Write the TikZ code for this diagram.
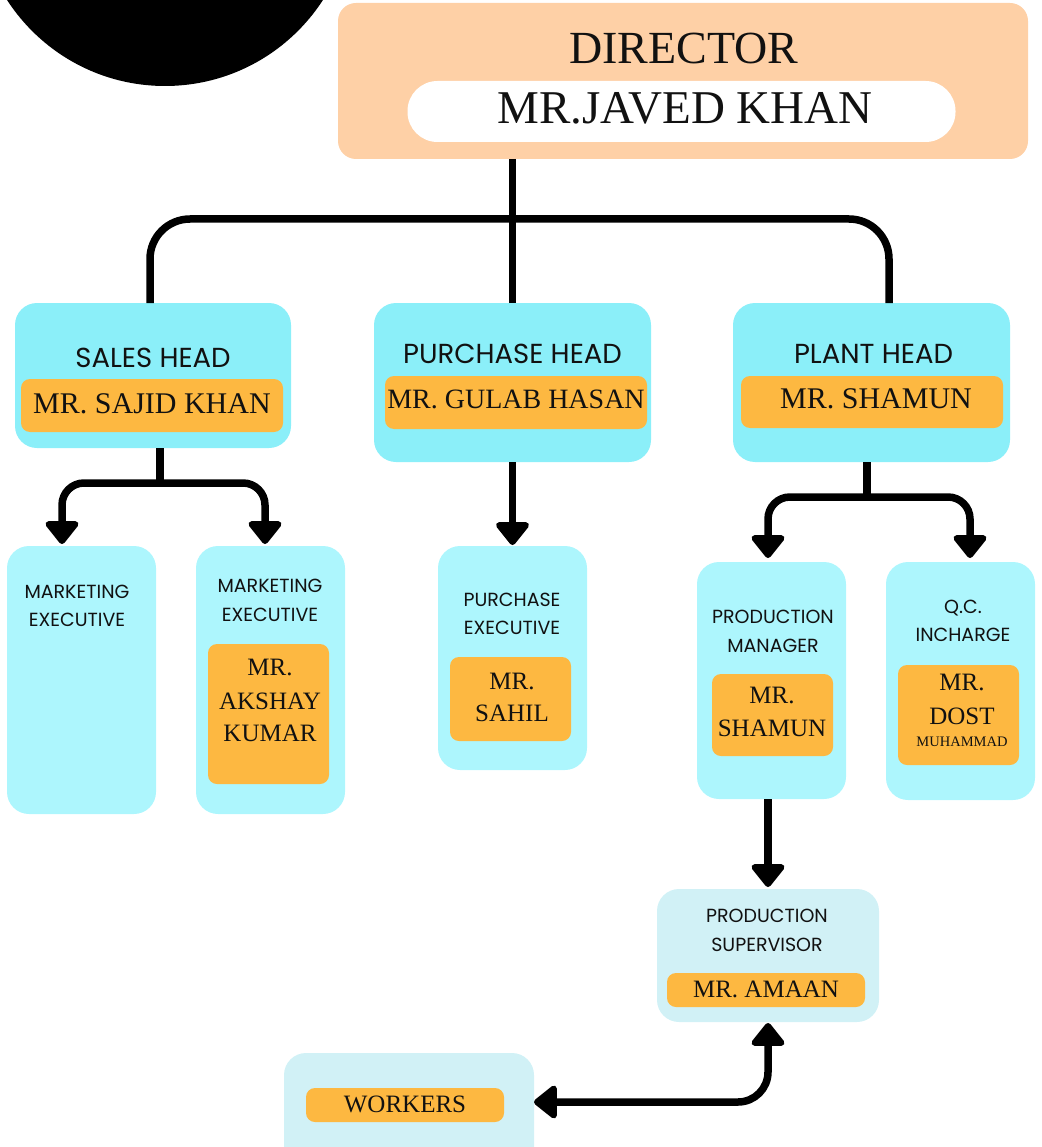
\documentclass[tikz,border=0pt]{standalone}
\usepackage{fontspec}
\setmainfont{Liberation Serif}
\newfontfamily\popfont{Poppins}
\usetikzlibrary{arrows.meta}
\definecolor{peach}{HTML}{FED0A6}
\definecolor{headcyan}{HTML}{8BEFF9}
\definecolor{subcyan}{HTML}{ADF6FD}
\definecolor{palecyan}{HTML}{D1F1F6}
\definecolor{nameorange}{HTML}{FDB841}
\definecolor{ink}{HTML}{111111}
\begin{document}
\begin{tikzpicture}[x=1pt,y=-1pt,
  box/.style={inner sep=0pt, outer sep=0pt, draw=none},
  dirbox/.style={box, fill=peach, rounded corners=18pt},
  pillbox/.style={box, fill=white, rounded corners=30pt},
  headbox/.style={box, fill=headcyan, rounded corners=22pt},
  subbox/.style={box, fill=subcyan, rounded corners=22pt},
  palebox/.style={box, fill=palecyan, rounded corners=22pt},
  namebox/.style={box, fill=nameorange, rounded corners=9pt},
  txt/.style={anchor=base, inner sep=0pt, outer sep=0pt, text=ink},
  bigtxt/.style={txt, font=\fontsize{46pt}{50pt}\selectfont},
  ttl/.style={txt, font=\popfont\fontsize{27.5pt}{30pt}\selectfont},
  sttl/.style={txt, font=\popfont\fontsize{19pt}{21pt}\selectfont},
  nm/.style={txt, font=\fontsize{30pt}{32pt}\selectfont},
  snm/.style={txt, font=\fontsize{25pt}{27pt}\selectfont},
  tnm/.style={txt, font=\fontsize{14.5pt}{16pt}\selectfont},
  conn/.style={line width=7.5pt, draw=black},
  arr/.style={-{Triangle[width=38pt,length=25pt,round]}},
  arrb/.style={{Triangle[width=38pt,length=25pt,round]}-{Triangle[width=38pt,length=25pt,round]}}
]
\useasboundingbox (0,0) rectangle (1041,1147);
\clip (0,0) rectangle (1041,1147);

% black circle
\fill[black] (165,-102) circle[radius=188pt];

% director
\node[dirbox, minimum width=690pt, minimum height=156pt] (dir) at (683,81) {};
\node[bigtxt] (dirt) at (684,64) {DIRECTOR};
\node[pillbox, minimum width=548pt, minimum height=61pt] (pill) at (681.5,111.5) {};
\node[bigtxt, font=\fontsize{47pt}{50pt}\selectfont] (dirn) at (685,124) {MR.JAVED KHAN};

% heads
\node[headbox, minimum width=276pt, minimum height=145pt] (sh) at (153,375.5) {};
\node[ttl] (sht) at (153,367) {SALES HEAD};
\node[namebox, minimum width=262pt, minimum height=53pt] (shb) at (152,405.5) {};
\node[nm] (shn) at (152,413) {MR. SAJID KHAN};

\node[headbox, minimum width=277pt, minimum height=159pt] (ph) at (512.5,382.5) {};
\node[ttl] (pht) at (512.5,363) {PURCHASE HEAD};
\node[namebox, minimum width=262pt, minimum height=53pt] (phb) at (516,402.5) {};
\node[nm, font=\fontsize{28pt}{30pt}\selectfont] (phn) at (516,408) {MR. GULAB HASAN};

\node[headbox, minimum width=277pt, minimum height=159pt] (pl) at (871.5,382.5) {};
\node[ttl] (plt) at (873.5,363) {PLANT HEAD};
\node[namebox, minimum width=262pt, minimum height=52pt] (plb) at (872,402) {};
\node[nm] (pln) at (876,408) {MR. SHAMUN};

% marketing executive 1
\node[subbox, minimum width=149pt, minimum height=268pt] (me1) at (81.5,680) {};
\node[sttl] (me1a) at (77,598) {MARKETING};
\node[sttl] (me1b) at (77,626) {EXECUTIVE};

% marketing executive 2
\node[subbox, minimum width=149pt, minimum height=268pt] (me2) at (270.5,680) {};
\node[sttl] (me2a) at (270,592) {MARKETING};
\node[sttl] (me2b) at (270,621) {EXECUTIVE};
\node[namebox, minimum width=121pt, minimum height=140pt] (me2n) at (268.5,714) {};
\node[snm] (me2n1) at (270,675) {MR.};
\node[snm] (me2n2) at (270,709) {AKSHAY};
\node[snm] (me2n3) at (270,741) {KUMAR};

% purchase executive
\node[subbox, minimum width=149pt, minimum height=224pt] (pe) at (512.5,658) {};
\node[sttl] (pea) at (512,606) {PURCHASE};
\node[sttl] (peb) at (512,634) {EXECUTIVE};
\node[namebox, minimum width=121pt, minimum height=84pt] (pen) at (510.5,699) {};
\node[snm] (pen1) at (512,689) {MR.};
\node[snm] (pen2) at (512,721) {SAHIL};

% production manager
\node[subbox, minimum width=149pt, minimum height=237pt] (pm) at (771.5,680.5) {};
\node[sttl] (pma) at (773,623) {PRODUCTION};
\node[sttl] (pmb) at (773,652) {MANAGER};
\node[namebox, minimum width=121pt, minimum height=82pt] (pmn) at (772.5,715) {};
\node[snm] (pmn1) at (772,703) {MR.};
\node[snm] (pmn2) at (772,736) {SHAMUN};

% qc incharge
\node[subbox, minimum width=149pt, minimum height=238pt] (qc) at (960.5,681) {};
\node[sttl] (qca) at (963,613) {Q.C.};
\node[sttl] (qcb) at (963,641) {INCHARGE};
\node[namebox, minimum width=121pt, minimum height=100pt] (qcn) at (958.5,715) {};
\node[snm] (qcn1) at (962,690) {MR.};
\node[snm] (qcn2) at (962,724) {DOST};
\node[tnm] (qcn3) at (962,746) {MUHAMMAD};

% production supervisor
\node[palebox, minimum width=222pt, minimum height=133pt] (ps) at (768,955.5) {};
\node[sttl] (psa) at (767,922) {PRODUCTION};
\node[sttl] (psb) at (767,951) {SUPERVISOR};
\node[namebox, minimum width=198pt, minimum height=34pt] (psn) at (766,990) {};
\node[snm] (psn1) at (766,997) {MR. AMAAN};

% workers
\node[palebox, minimum width=250pt, minimum height=117pt] (wk) at (409,1111.5) {};
\node[namebox, minimum width=198pt, minimum height=34pt] (wkn) at (405,1105) {};
\node[snm] (wkn1) at (405,1112) {WORKERS};

% connectors from director
\coordinate (dj) at (513,219);
\draw[conn] (dir.south -| ph.north) -- (ph.north);
\draw[conn, rounded corners=40pt] ([xshift=-3pt]sh.north) |- (dj) -| ([xshift=17.5pt]pl.north);

% sales head branches
\coordinate (sj) at (160,483);
\draw[conn] ([xshift=7pt]sh.south) -- (sj);
\draw[conn, arr, rounded corners=22pt] (sj) -| ([xshift=-19.5pt,yshift=2pt]me1.north);
\draw[conn, arr, rounded corners=22pt] (sj) -| ([xshift=-5.5pt,yshift=2pt]me2.north);

% purchase head
\draw[conn, arr] (ph.south -| pe.north) -- ([yshift=1pt]pe.north);

% plant head branches
\coordinate (pj) at (867,497);
\draw[conn] ([xshift=-4.5pt]pl.south) -- (pj);
\draw[conn, arr, rounded corners=22pt] (pj) -| ([xshift=-3.5pt,yshift=4pt]pm.north);
\draw[conn, arr, rounded corners=22pt] (pj) -| ([xshift=9.5pt,yshift=4pt]qc.north);

% production manager to supervisor
\draw[conn, arr] (pm.south -| ps.north) -- ([yshift=2pt]ps.north);

% supervisor <-> workers
\draw[conn, arrb, rounded corners=30pt] ([yshift=-1pt]ps.south) |- (wk.east |- 0,1102);
\end{tikzpicture}
\end{document}
